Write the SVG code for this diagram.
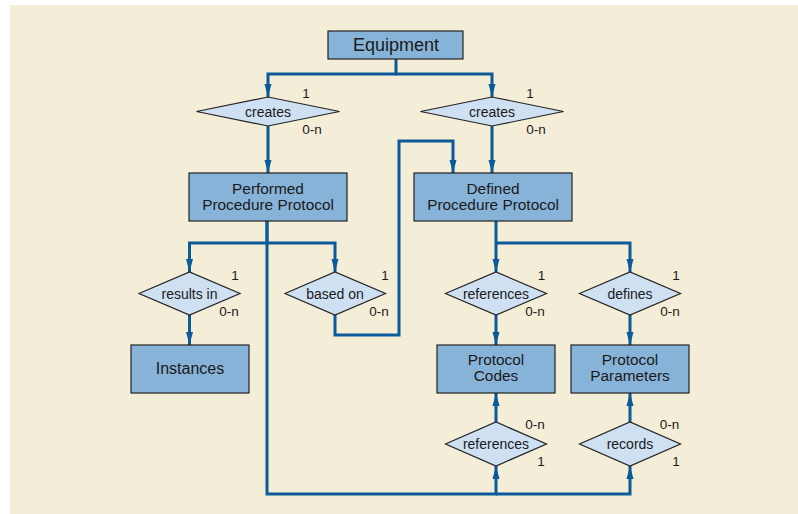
<svg xmlns="http://www.w3.org/2000/svg" width="798" height="514" viewBox="0 0 798 514">
<style>
.bg{fill:#f4edd7}
.box{fill:#88b3d9;stroke:#222;stroke-width:1.2}
.dia{fill:#cfe0f2;stroke:#222;stroke-width:1.2}
.bt{font-family:"Liberation Sans",Arial,sans-serif;font-size:16px;fill:#1a1a1a;text-anchor:middle}
.bt2{font-family:"Liberation Sans",Arial,sans-serif;font-size:15.4px;fill:#1a1a1a;text-anchor:middle}
.dt{font-family:"Liberation Sans",Arial,sans-serif;font-size:14px;fill:#1a1a1a;text-anchor:middle}
.lb{font-family:"Liberation Sans",Arial,sans-serif;font-size:13.5px;fill:#1a1a1a;text-anchor:middle}
.c{fill:none;stroke:#0b5a9a;stroke-width:3}
.a{marker-end:url(#ah)}
</style>
<defs>
<marker id="ah" markerUnits="userSpaceOnUse" markerWidth="13" markerHeight="8" refX="13" refY="4" orient="auto">
<path d="M0,0.5 L13,4 L0,7.5 z" fill="#0b5a9a"/>
</marker>
</defs>
<rect x="0" y="0" width="798" height="514" fill="#ffffff"/>
<rect class="bg" x="10" y="5" width="788" height="509"/>

<g id="connectors">
<path class="c a" d="M396,59 V74 H268 V97"/>
<path class="c a" d="M396,74 H492 V97"/>
<path class="c a" d="M268,126 V173"/>
<path class="c a" d="M492,126 V173"/>
<path class="c a" d="M267,221 V243 H189.5 V272"/>
<path class="c a" d="M267,243 H335 V272"/>
<path class="c a" d="M189.5,315 V345"/>
<path class="c a" d="M335,315 V335 H399 V141 H453 V173"/>
<path class="c a" d="M496,221 V272"/>
<path class="c a" d="M496,243 H630 V272"/>
<path class="c a" d="M496,315 V345"/>
<path class="c a" d="M630,315 V345"/>
<path class="c a" d="M496,422 V393"/>
<path class="c a" d="M630,422 V393"/>
<path class="c a" d="M267,221 V494 H496 V466"/>
<path class="c a" d="M496,494 H630 V466"/>
</g>

<g id="equipment">
<rect class="box" x="328" y="31" width="135" height="28"/>
<text class="bt" x="396" y="51" style="font-size:18px">Equipment</text>
</g>

<g id="creates1">
<polygon class="dia" points="196.5,111.5 268,97 339.5,111.5 268,126"/>
<text class="dt" x="268" y="116.5">creates</text>
<text class="lb" x="306" y="98">1</text>
<text class="lb" x="312" y="134">0-n</text>
</g>

<g id="creates2">
<polygon class="dia" points="420.5,111.5 492,97 563.5,111.5 492,126"/>
<text class="dt" x="492" y="116.5">creates</text>
<text class="lb" x="530" y="98">1</text>
<text class="lb" x="536" y="134">0-n</text>
</g>

<g id="performed">
<rect class="box" x="189" y="173" width="158" height="48"/>
<text class="bt2" x="268" y="193.5">Performed</text>
<text class="bt2" x="268" y="209.5">Procedure Protocol</text>
</g>

<g id="defined">
<rect class="box" x="414" y="173" width="158" height="48"/>
<text class="bt2" x="493" y="193.5">Defined</text>
<text class="bt2" x="493" y="209.5">Procedure Protocol</text>
</g>

<g id="resultsin">
<polygon class="dia" points="139,293.5 189.5,272 240,293.5 189.5,315"/>
<text class="dt" x="189.5" y="298.5">results in</text>
<text class="lb" x="235" y="280">1</text>
<text class="lb" x="229" y="316">0-n</text>
</g>

<g id="basedon">
<polygon class="dia" points="285,293.5 335,272 385.5,293.5 335,315"/>
<text class="dt" x="335" y="298.5">based on</text>
<text class="lb" x="385" y="280">1</text>
<text class="lb" x="379" y="316">0-n</text>
</g>

<g id="references1">
<polygon class="dia" points="445.5,293.5 496,272 546.5,293.5 496,315"/>
<text class="dt" x="496" y="298.5">references</text>
<text class="lb" x="541.5" y="280">1</text>
<text class="lb" x="535" y="316">0-n</text>
</g>

<g id="defines">
<polygon class="dia" points="579.5,293.5 630,272 680.5,293.5 630,315"/>
<text class="dt" x="630" y="298.5">defines</text>
<text class="lb" x="676" y="280">1</text>
<text class="lb" x="670" y="316">0-n</text>
</g>

<g id="instances">
<rect class="box" x="131" y="345" width="118" height="48"/>
<text class="bt" x="190" y="374">Instances</text>
</g>

<g id="protocolcodes">
<rect class="box" x="437" y="345" width="118" height="48"/>
<text class="bt2" x="496" y="365">Protocol</text>
<text class="bt2" x="496" y="381">Codes</text>
</g>

<g id="protocolparameters">
<rect class="box" x="571" y="345" width="118" height="48"/>
<text class="bt2" x="630" y="365">Protocol</text>
<text class="bt2" x="630" y="381">Parameters</text>
</g>

<g id="references2">
<polygon class="dia" points="445.5,444 496,422 546.5,444 496,466"/>
<text class="dt" x="496" y="449">references</text>
<text class="lb" x="535" y="429">0-n</text>
<text class="lb" x="541" y="466">1</text>
</g>

<g id="records">
<polygon class="dia" points="579.5,444 630,422 680.5,444 630,466"/>
<text class="dt" x="630" y="449">records</text>
<text class="lb" x="669.5" y="429">0-n</text>
<text class="lb" x="676" y="466">1</text>
</g>
</svg>
